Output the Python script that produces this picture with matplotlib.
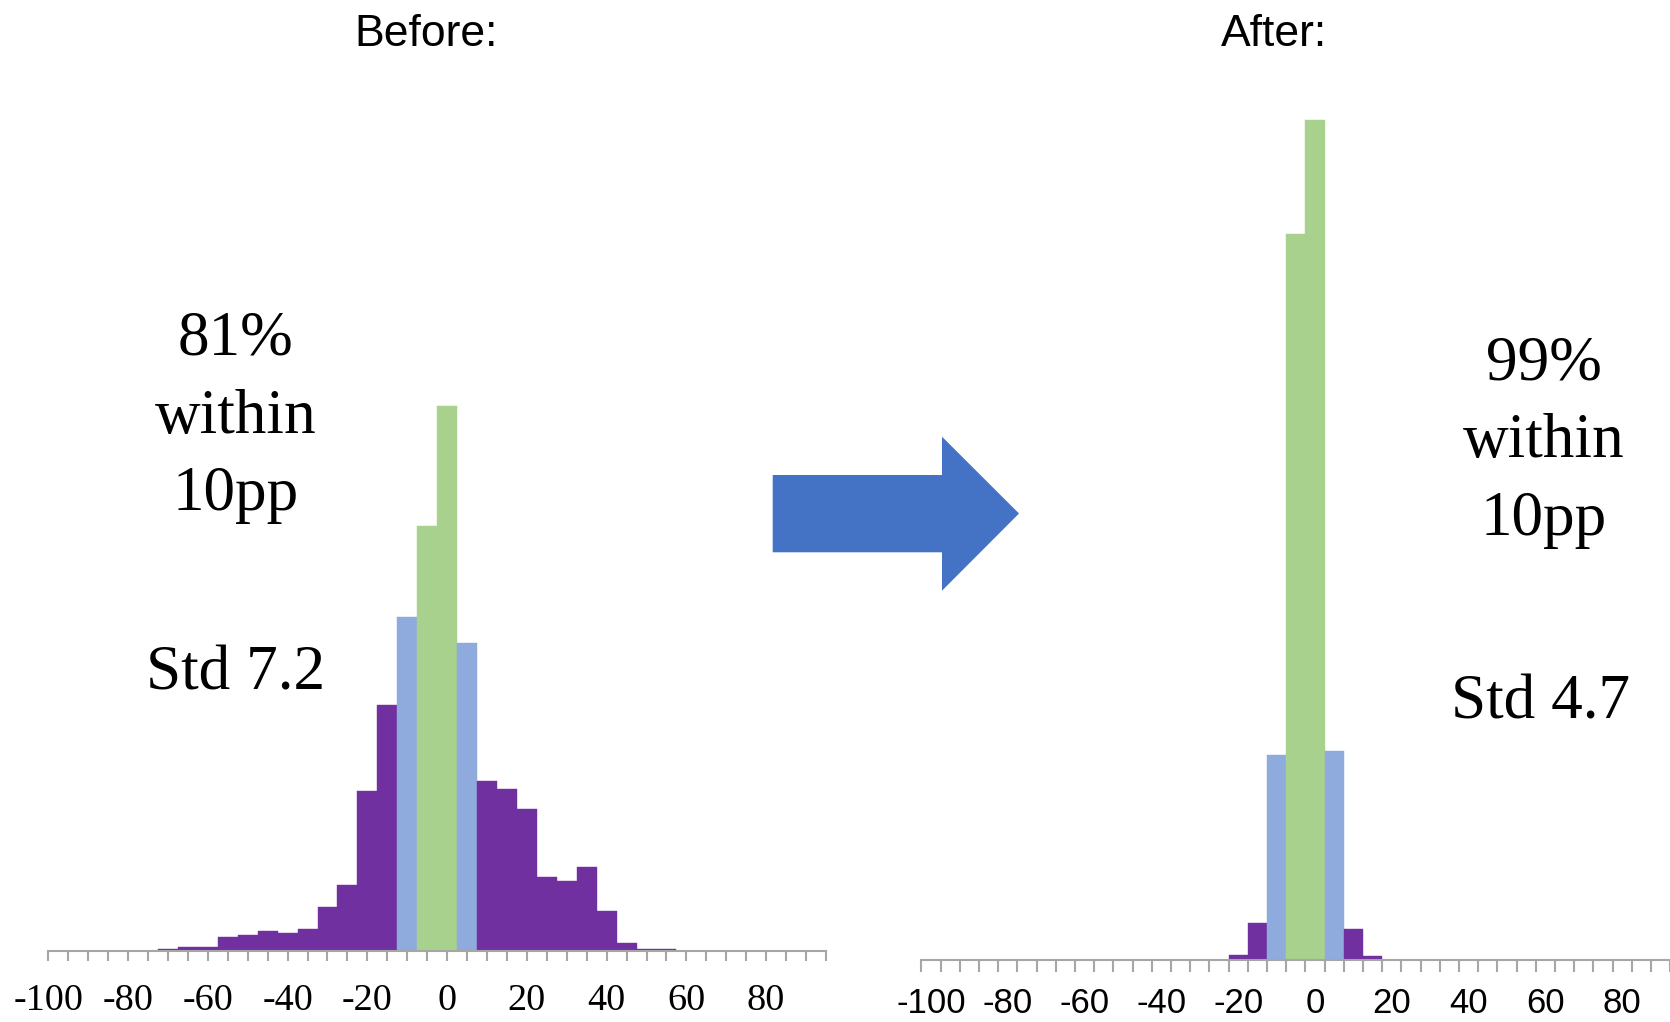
import numpy as np
import matplotlib
matplotlib.use("Agg")
import matplotlib.pyplot as plt
from matplotlib.patches import Polygon

W, H, DPI = 1670, 1022, 100

# Share of cases (%) per 5pp gap bucket
before_bins = [-70, -65, -60, -55, -50, -45, -40, -35, -30, -25, -20, -15, -10,
               -5, 0, 5, 10, 15, 20, 25, 30, 35, 40, 45, 50, 55]
before_share = [0.06, 0.14, 0.14, 0.47, 0.53, 0.66, 0.60, 0.73, 1.47, 2.23, 5.38,
                8.25, 11.20, 14.26, 18.28, 10.33, 5.70, 5.43, 4.76, 2.48, 2.35,
                2.81, 1.33, 0.26, 0.06, 0.06]

after_bins = [-20, -15, -10, -5, 0, 5, 10, 15]
after_share = [0.24, 1.80, 9.97, 35.30, 40.84, 10.16, 1.51, 0.19]

tick_labels = [-100, -80, -60, -40, -20, 0, 20, 40, 60, 80]

before_notes = ["81%", "within", "10pp"]
before_std = "Std 7.2"
after_notes = ["99%", "within", "10pp"]
after_std = "Std 4.7"

PURPLE = "#7030A0"
BLUE = "#8FAADC"
GREEN = "#A9D18E"
AXIS_GREY = "#A6A6A6"
ARROW_BLUE = "#4472C4"


def bar_color(b):
    if b in (-5, 0):
        return GREEN
    if b in (-10, 5):
        return BLUE
    return PURPLE


fig = plt.figure(figsize=(W / DPI, H / DPI), dpi=DPI)


def px_axes(left, top, right, bottom):
    return fig.add_axes([left / W, 1 - bottom / H, (right - left) / W, (bottom - top) / H])


def fx(x):
    return x / W


def fy(y):
    return 1 - y / H


def style_axis(ax):
    for side in ("left", "right", "top"):
        ax.spines[side].set_visible(False)
    ax.spines["bottom"].set_color(AXIS_GREY)
    ax.spines["bottom"].set_linewidth(1.5)
    ax.set_yticks([])
    ax.patch.set_alpha(0)


# ---- Before panel ----
ax1 = px_axes(48.3, 71, 826, 951)
ax1.bar(before_bins, before_share, width=5, color=[bar_color(b) for b in before_bins],
        edgecolor=[bar_color(b) for b in before_bins], linewidth=0.3)
ax1.set_xlim(-100, 95)
ax1.set_ylim(0, max(before_share) * 880 / 545)
style_axis(ax1)
ax1.set_xticks(np.arange(-100, 96, 5), minor=True)
ax1.set_xticks(tick_labels)
ax1.set_xticklabels([str(t) for t in tick_labels], fontfamily="Liberation Serif",
                    fontsize=27.5)
ax1.tick_params(axis="x", which="both", length=7.2, width=1.5, color=AXIS_GREY,
                direction="out", pad=16)

# ---- After panel ----
ax2 = px_axes(921.4, 80, 921.4 + 40 * 19.2, 960)
ax2.bar(after_bins, after_share, width=5, color=[bar_color(b) for b in after_bins],
        edgecolor=[bar_color(b) for b in after_bins], linewidth=0.3)
ax2.set_xlim(-102.5, 97.5)
ax2.set_ylim(0, max(after_share) * 880 / 840)
style_axis(ax2)
ax2.set_xticks(np.arange(-102.5, 98, 5), minor=True)
ax2.set_xticks(tick_labels)
ax2.set_xticklabels([str(t) for t in tick_labels], fontfamily="Liberation Sans",
                    fontsize=25)
ax2.tick_params(axis="x", which="minor", length=8.6, width=1.5, color=AXIS_GREY,
                direction="out")
ax2.tick_params(axis="x", which="major", length=0, pad=19.5)

# ---- Titles ----
fig.text(fx(426), fy(46), "Before:", ha="center", va="baseline",
         fontfamily="Liberation Sans", fontsize=32)
fig.text(fx(1274), fy(46), "After:", ha="center", va="baseline",
         fontfamily="Liberation Sans", fontsize=32)

# ---- Annotations ----
serif = dict(ha="center", va="baseline", fontfamily="Liberation Serif", fontsize=45.5)
for i, line in enumerate(before_notes):
    fig.text(fx(236), fy(354.5 + 78 * i), line, **serif)
fig.text(fx(236), fy(689), before_std, **serif)
for i, line in enumerate(after_notes):
    fig.text(fx(1544), fy(380 + 77.5 * i), line, **serif)
fig.text(fx(1541), fy(718.5), after_std, **serif)

# ---- Arrow between panels ----
arrow_px = [(772.7, 475), (942, 475), (942, 436.7), (1019, 513.5),
            (942, 590.7), (942, 552.3), (772.7, 552.3)]
fig.add_artist(Polygon([(fx(x), fy(y)) for x, y in arrow_px], closed=True,
                       transform=fig.transFigure, facecolor=ARROW_BLUE,
                       edgecolor="none"))

fig.savefig("out.png", dpi=DPI, facecolor="white")
